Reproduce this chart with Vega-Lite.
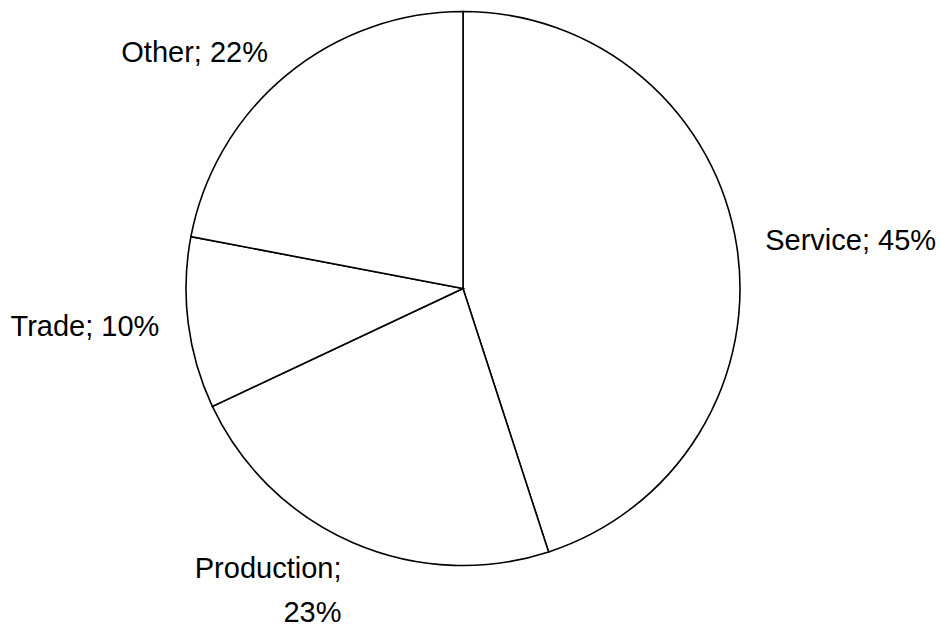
{
  "$schema": "https://vega.github.io/schema/vega-lite/v6.json",
  "width": 926,
  "height": 577,
  "autosize": "none",
  "padding": {"left": 0, "top": 0, "right": 15, "bottom": 58},
  "background": "white",
  "data": {
    "values": [
      {"category": "Service", "share": 45, "label": "Service; 45%", "rank": 1},
      {"category": "Production", "share": 23, "label": "Production;\n23%", "rank": 2},
      {"category": "Trade", "share": 10, "label": "Trade; 10%", "rank": 3},
      {"category": "Other", "share": 22, "label": "Other; 22%", "rank": 4}
    ]
  },
  "encoding": {
    "theta": {"field": "share", "type": "quantitative", "stack": true},
    "order": {"field": "rank", "type": "quantitative", "sort": "ascending"}
  },
  "layer": [
    {
      "mark": {"type": "arc", "outerRadius": 277, "fill": "white", "stroke": "black", "strokeWidth": 1.6}
    },
    {
      "mark": {
        "type": "text",
        "radius": 306,
        "font": "Liberation Sans",
        "fontSize": 29,
        "lineBreak": "\n",
        "lineHeight": 44,
        "color": "black",
        "baseline": "middle",
        "align": {"expr": "(datum.share_start + datum.share_end) / 2 > 50 ? 'right' : 'left'"}
      },
      "encoding": {"text": {"field": "label"}}
    }
  ],
  "config": {"view": {"stroke": null}}
}
